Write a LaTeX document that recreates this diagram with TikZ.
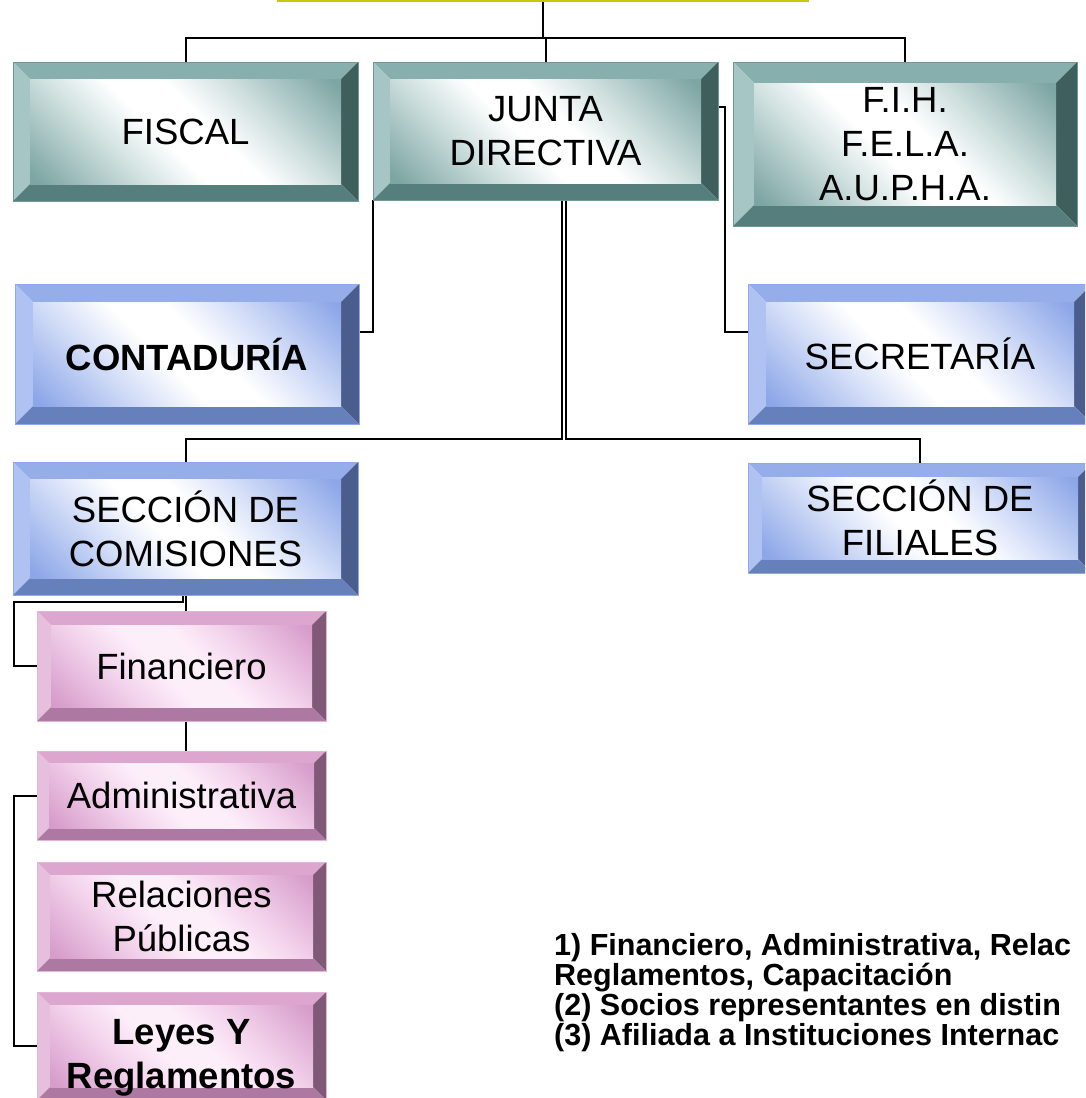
\documentclass[tikz,border=0pt]{standalone}
\usepackage{fontspec}
\setmainfont{Liberation Sans}
\usetikzlibrary{calc}
\pgfdeclarelayer{back}
\pgfdeclarelayer{bg}
\pgfsetlayers{back,bg,main}
\definecolor{tealT}{HTML}{87AFAD}
\definecolor{tealL}{HTML}{A5C6C4}
\definecolor{tealR}{HTML}{3F5F5D}
\definecolor{tealB}{HTML}{567E7C}
\definecolor{tealC}{HTML}{7CA5A3}
\definecolor{tealM}{HTML}{CFE0DF}
\definecolor{tealW}{HTML}{FFFFFF}
\definecolor{tealE}{HTML}{6F9997}
\definecolor{blueT}{HTML}{95AEEA}
\definecolor{blueL}{HTML}{AFC2F2}
\definecolor{blueR}{HTML}{4A5D8C}
\definecolor{blueB}{HTML}{6680BC}
\definecolor{blueC}{HTML}{8CA6E8}
\definecolor{blueM}{HTML}{D5DFF8}
\definecolor{blueW}{HTML}{FFFFFF}
\definecolor{blueE}{HTML}{8DA8EE}
\definecolor{pinkT}{HTML}{DCA6CF}
\definecolor{pinkL}{HTML}{E6BFDC}
\definecolor{pinkR}{HTML}{805878}
\definecolor{pinkB}{HTML}{AD78A2}
\definecolor{pinkC}{HTML}{D79CCB}
\definecolor{pinkM}{HTML}{F3D3EC}
\definecolor{pinkW}{HTML}{FDEFFA}
\definecolor{pinkE}{HTML}{E2B4D8}
\definecolor{yelC}{HTML}{C8C80A}
\pgfdeclarehorizontalshading{tealsh}{100bp}{color(0bp)=(tealC); color(16bp)=(tealC); color(34bp)=(tealM); color(45bp)=(tealW); color(55bp)=(tealW); color(66bp)=(tealM); color(84bp)=(tealC); color(100bp)=(tealC)}
\pgfdeclarehorizontalshading{bluesh}{100bp}{color(0bp)=(blueC); color(16bp)=(blueC); color(34bp)=(blueM); color(45bp)=(blueW); color(55bp)=(blueW); color(66bp)=(blueM); color(84bp)=(blueC); color(100bp)=(blueC)}
\pgfdeclarehorizontalshading{pinksh}{100bp}{color(0bp)=(pinkC); color(16bp)=(pinkC); color(34bp)=(pinkM); color(45bp)=(pinkW); color(55bp)=(pinkW); color(66bp)=(pinkM); color(84bp)=(pinkC); color(100bp)=(pinkC)}
\tikzset{
  boxtext/.style={font=\fontsize{36.5}{44}\selectfont, align=center, inner sep=0pt},
  boldtext/.style={font=\bfseries\fontsize{36.5}{44}\selectfont},
  conn/.style={draw=black, line width=2pt},
  note/.style={font=\bfseries\fontsize{30.5}{30}\selectfont, anchor=base west, inner sep=0pt}
}
% #1 name, #2 x1, #3 y1, #4 x2, #5 y2, #6 family, #7 bevel, #8 text options, #9 text
\newcommand\bevelbox[9]{%
  \pgfmathsetmacro\bxa{#2}\pgfmathsetmacro\bya{-(#3)}%
  \pgfmathsetmacro\bxb{#4}\pgfmathsetmacro\byb{-(#5)}%
  \pgfmathsetmacro\bxc{#2+#7}\pgfmathsetmacro\byc{-(#3)-#7}%
  \pgfmathsetmacro\bxd{#4-#7}\pgfmathsetmacro\byd{-(#5)+#7}%
  \fill[#6T] (\bxa,\bya) -- (\bxb,\bya) -- (\bxd,\byc) -- (\bxc,\byc) -- cycle;
  \fill[#6L] (\bxa,\bya) -- (\bxc,\byc) -- (\bxc,\byd) -- (\bxa,\byb) -- cycle;
  \fill[#6R] (\bxb,\bya) -- (\bxb,\byb) -- (\bxd,\byd) -- (\bxd,\byc) -- cycle;
  \fill[#6B] (\bxa,\byb) -- (\bxb,\byb) -- (\bxd,\byd) -- (\bxc,\byd) -- cycle;
  \shade[shading=#6sh, shading angle=45] (\bxc,\byc) rectangle (\bxd,\byd);
  \draw[#6E, line width=1pt] (\bxa,\bya) rectangle (\bxb,\byb);
  \node[inner sep=0pt, minimum width={#4-#2}, minimum height={#5-#3}] (#1) at ({(#2+#4)/2},{-(#3+#5)/2}) {};
  \node[boxtext, #8] (#1-t) at (#1.center) {#9};
}
\begin{document}
\begin{tikzpicture}[x=1pt,y=1pt]
\useasboundingbox (0,0) rectangle (1085,-1098);
\clip (0,0) rectangle (1085,-1098);
\begin{pgfonlayer}{back}
\fill[white] (0,0) rectangle (1085,-1098);
\end{pgfonlayer}
% top box (only its lower edge is visible)
\node[draw=yelC, line width=3pt, fill=white, minimum width=529, minimum height=60, inner sep=0pt, anchor=south] (gen) at (542.5,-1.5) {};
% boxes
\bevelbox{fis}{13}{62}{358}{201}{teal}{17}{}{FISCAL}
\bevelbox{jd}{373}{62}{718}{200}{teal}{17}{}{JUNTA\\DIRECTIVA}
\bevelbox{fih}{733}{62}{1077}{226}{teal}{21}{}{F.I.H.\\F.E.L.A.\\A.U.P.H.A.}
\bevelbox{cont}{15}{284}{359}{424}{blue}{18}{boldtext}{CONTADURÍA}
\bevelbox{sec}{748}{284}{1092}{424}{blue}{18}{}{SECRETARÍA}
\bevelbox{com}{13}{462}{358}{595}{blue}{17}{}{SECCIÓN DE\\COMISIONES}
\bevelbox{fil}{748}{463}{1092}{573}{blue}{14}{}{SECCIÓN DE\\FILIALES}
\bevelbox{fin}{37}{611}{326}{721}{pink}{14}{}{Financiero}
\bevelbox{adm}{37}{751}{326}{840}{pink}{12}{}{Administrativa}
\bevelbox{rel}{37}{862}{326}{971}{pink}{13}{}{Relaciones\\Públicas}
\bevelbox{ley}{37}{992}{326}{1100}{pink}{13}{boldtext, yshift=-12}{Leyes Y\\Reglamentos}
% connectors
\begin{pgfonlayer}{bg}
\draw[conn] (gen.south) -- ++(0,-36.5);
\draw[conn] (fis.north) -- ++(0,24) -| (fih.north);
\draw[conn] (jd.north) -- ++(0,24);
\draw[conn] (jd.south west) |- ([yshift=22]cont.east);
\draw[conn] ([yshift=24]jd.east) -- ++(7,0) |- ([yshift=22]sec.west);
\draw[conn] ([xshift=16.5]jd.south) -- ++(0,-239) -| (com.north);
\draw[conn] ([xshift=20.5]jd.south) -- ++(0,-239) -| (fil.north);
\draw[conn] (com.south) -- (com.south |- adm.north);
\draw[conn] ([xshift=-3]com.south) -- ++(0,-7) -| ([xshift=-23]fin.west) -- (fin.west);
\draw[conn] (adm.west) -- ++(-23,0) |- (ley.west);
\end{pgfonlayer}
% notes
\node[note] (n1) at (554,-955) {1) Financiero, Administrativa, Relac};
\node[note] (n2) at (554,-985) {Reglamentos, Capacitación};
\node[note] (n3) at (554,-1015) {(2) Socios representantes en distin};
\node[note] (n4) at (554,-1045) {(3) Afiliada a Instituciones Internac};
\end{tikzpicture}
\end{document}
